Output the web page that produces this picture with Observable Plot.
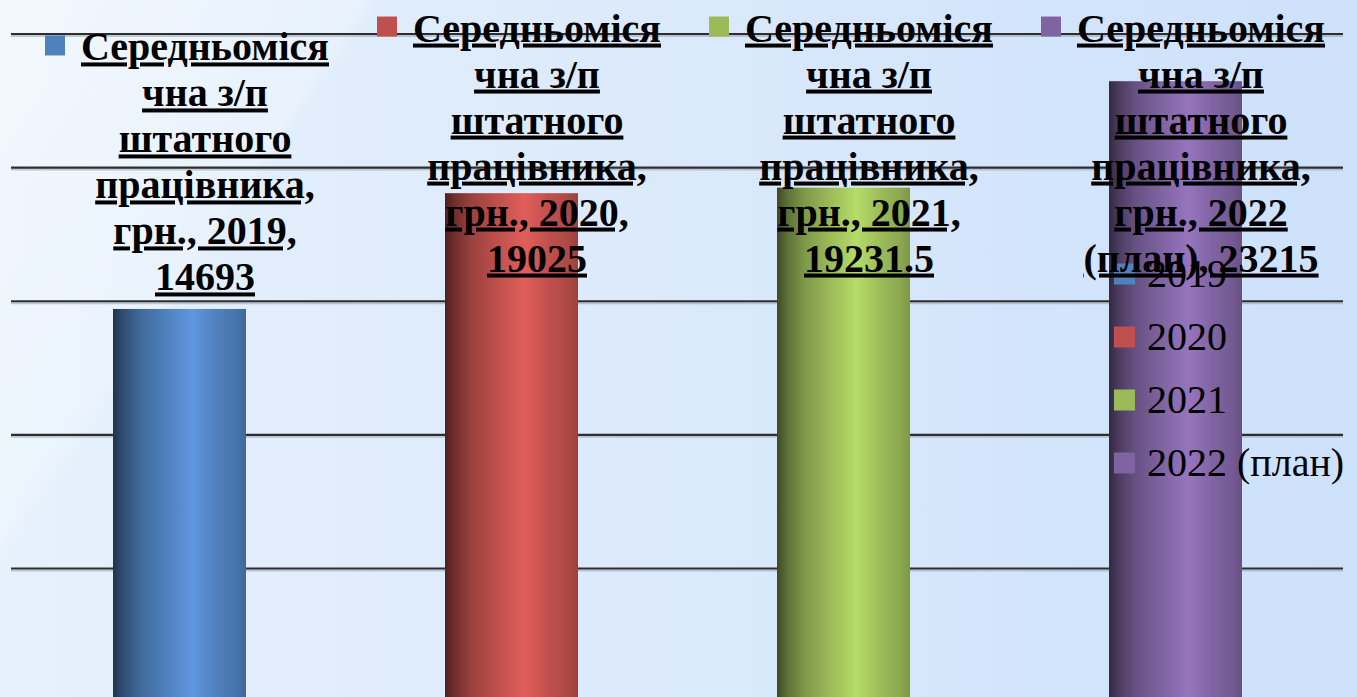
<!DOCTYPE html>
<html>
<head>
<meta charset="utf-8">
<script src="https://cdn.jsdelivr.net/npm/d3@7"></script>
<script src="https://cdn.jsdelivr.net/npm/@observablehq/plot@0.6"></script>
<style>
  html, body { margin: 0; padding: 0; overflow: hidden; }
  #chart {
    width: 1357px; height: 697px; position: relative; overflow: hidden;
    background:
      linear-gradient(124deg, rgba(255,255,255,0.45) 0%, rgba(255,255,255,0.25) 20%, rgba(255,255,255,0) 21%, rgba(255,255,255,0) 100%),
      linear-gradient(to right, #e6f1fc 0%, #dceafb 45%, #cde1fb 100%);
  }
  #chart svg { background: transparent !important; display: block; }
  #chart g[aria-label="text"] text {
    font-family: "Liberation Serif", "Times New Roman", serif !important;
    font-weight: bold;
    text-decoration: underline;
    text-decoration-thickness: 3px;
    text-underline-offset: 4px;
  }
  #chart g.legend text {
    font-family: "Liberation Serif", "Times New Roman", serif !important;
    text-anchor: start;
  }
</style>
</head>
<body>
<div id="chart"></div>
<script>
// ---- data ----
const categories = ["2019", "2020", "2021", "2022 (план)"];
const values = [14693, 19025, 19231.5, 23215];
const colors = ["#4F81BD", "#C0504D", "#9BBB59", "#8064A2"];
const seriesNameLines = ["Середньоміся", "чна з/п", "штатного", "працівника,"];
const unitLabel = "грн.";
const gridTicks = [0, 5000, 10000, 15000, 20000, 25000];

const rows = categories.map((c, i) => ({cat: c, value: values[i], color: colors[i], i}));

function labelText(d) {
  const parts = d.cat.split(" ");
  const tail = parts.length > 1
    ? `${unitLabel}, ${parts[0]}\n${parts.slice(1).join(" ")}, ${d.value}`
    : `${unitLabel}, ${d.cat},\n${d.value}`;
  return seriesNameLines.join("\n") + "\n" + tail;
}

// labels are pushed down into the plot area when they would overflow the top
const labelCeiling = 15400;
const labelY = d => Math.min(d.value, labelCeiling);

// gradient defs for cylinder-like bars
function defsMark() {
  const defs = d3.create("svg:defs");
  rows.forEach(d => {
    const c = d3.color(d.color);
    const g = defs.append("linearGradient").attr("id", `bar-grad-${d.i}`)
      .attr("x1", "0").attr("x2", "1").attr("y1", "0").attr("y2", "0");
    const stops = [
      [0, c.darker(2.6)], [0.07, c.darker(1.5)], [0.2, c.darker(0.6)],
      [0.4, c], [0.6, c.brighter(0.45)], [0.78, c], [0.93, c.darker(0.3)], [1, c.darker(0.6)]
    ];
    stops.forEach(([o, col]) => g.append("stop").attr("offset", o).attr("stop-color", col.formatHex()));
  });
  return defs.node();
}

function legendMark(index, scales, vals, dims) {
  const g = d3.create("svg:g").attr("class", "legend")
    .attr("font-size", 40).attr("fill", "#000").attr("text-anchor", "start");
  const x0 = dims.width - 243, y0 = 274, step = 63;
  rows.forEach((d, k) => {
    const cy = y0 + k * step;
    g.append("rect").attr("x", x0).attr("y", cy - 10.5).attr("width", 21).attr("height", 21).attr("fill", d.color);
    g.append("text").attr("x", x0 + 33).attr("y", cy + 13).attr("text-anchor", "start").text(d.cat);
  });
  return g.node();
}

const chart = Plot.plot({
  width: 1357,
  height: 697,
  marginLeft: 11,
  marginRight: 14,
  marginTop: 0,
  marginBottom: 0,
  style: {background: "transparent", overflow: "hidden"},
  x: {domain: categories, range: [12.5, 1342.2], paddingInner: 0.6, paddingOuter: 0.3, axis: null},
  y: {domain: [0, 25000], range: [701.6, 33.5], axis: null},
  color: {type: "identity"},
  marks: [
    defsMark,
    Plot.ruleY(gridTicks, {stroke: "#8f9bab", strokeOpacity: 0.5, strokeWidth: 2, dy: 2}),
    Plot.ruleY(gridTicks, {stroke: "#2e2e2e", strokeWidth: 2.2}),
    Plot.barY(rows, {x: "cat", y: "value", fill: d => `url(#bar-grad-${d.i})`}),
    legendMark,
    Plot.dot(rows, {x: "cat", y: labelY, dx: -125, dy: -264, symbol: "square", r: 11.3, fill: "color", stroke: null}),
    Plot.text(rows, {
      x: "cat", y: labelY, text: labelText, dx: 25, dy: -19,
      lineAnchor: "bottom", textAnchor: "middle", lineHeight: 46 / 40,
      fontFamily: "Liberation Serif",
      fontSize: 40, fontWeight: "bold", fill: "#000"
    })
  ]
});
document.getElementById("chart").appendChild(chart);
</script>
</body>
</html>
